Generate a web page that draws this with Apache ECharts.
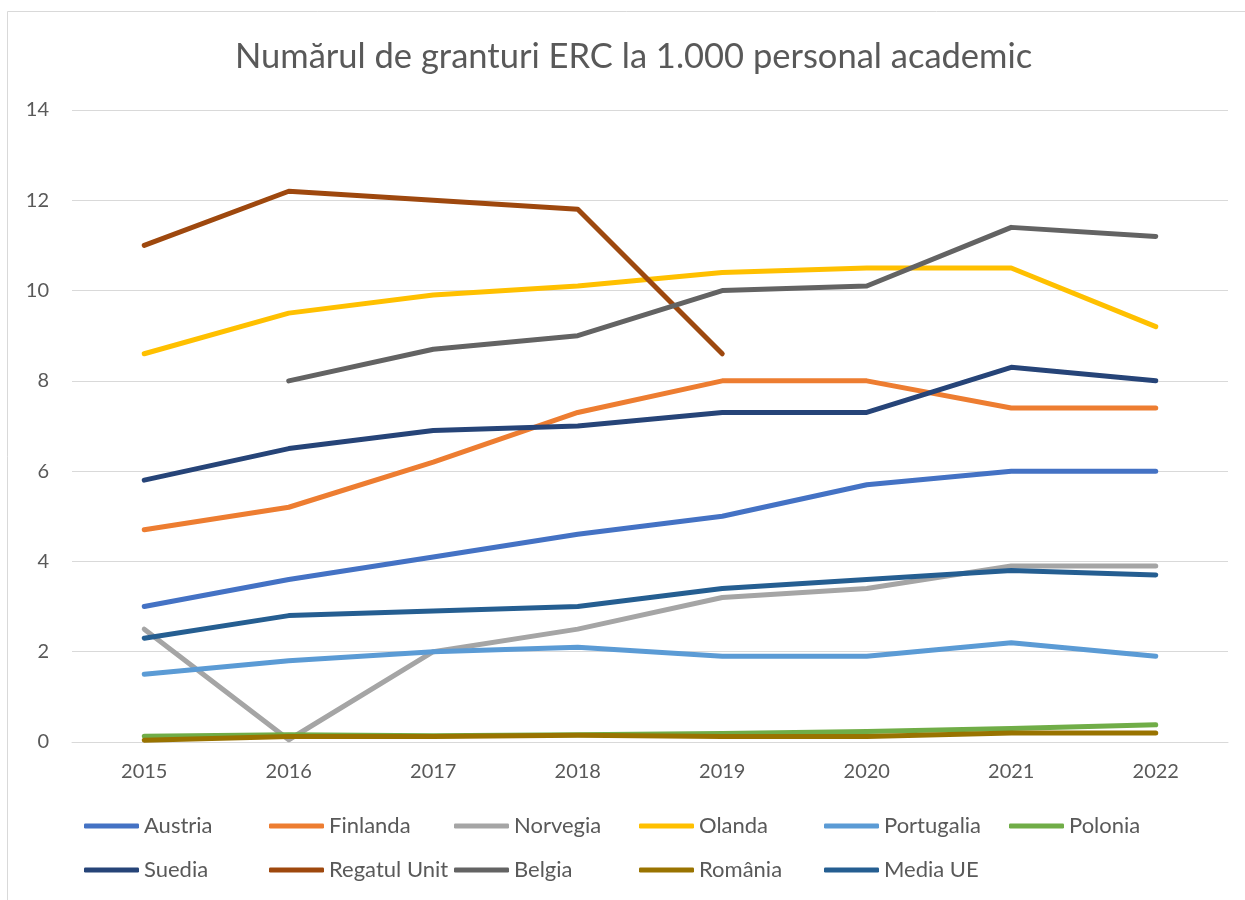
<!DOCTYPE html>
<html>
<head>
<meta charset="utf-8">
<script src="https://cdn.jsdelivr.net/npm/echarts@6/dist/echarts.min.js"></script>
<style>
    html, body { margin: 0; padding: 0; background: #fff; }
    #chart { width: 1245px; height: 900px; }
</style>
</head>
<body>
<div id="chart"></div>
<script>
const years = ['2015', '2016', '2017', '2018', '2019', '2020', '2021', '2022'];

const austria = [3.0, 3.6, 4.1, 4.6, 5.0, 5.7, 6.0, 6.0];
const finlanda = [4.7, 5.2, 6.2, 7.3, 8.0, 8.0, 7.4, 7.4];
const norvegia = [2.5, 0.05, 2.0, 2.5, 3.2, 3.4, 3.9, 3.9];
const olanda = [8.6, 9.5, 9.9, 10.1, 10.4, 10.5, 10.5, 9.2];
const portugalia = [1.5, 1.8, 2.0, 2.1, 1.9, 1.9, 2.2, 1.9];
const polonia = [0.13, 0.16, 0.14, 0.16, 0.19, 0.23, 0.3, 0.38];
const suedia = [5.8, 6.5, 6.9, 7.0, 7.3, 7.3, 8.3, 8.0];
const regatulUnit = [11.0, 12.2, 12.0, 11.8, 8.6, null, null, null];
const belgia = [null, 8.0, 8.7, 9.0, 10.0, 10.1, 11.4, 11.2];
const romania = [0.04, 0.12, 0.12, 0.15, 0.12, 0.12, 0.2, 0.2];
const mediaUE = [2.3, 2.8, 2.9, 3.0, 3.4, 3.6, 3.8, 3.7];

const yTicks = [0, 2, 4, 6, 8, 10, 12, 14];

const seriesDefs = [
    ['Austria', austria, '#4472C4'],
    ['Finlanda', finlanda, '#ED7D31'],
    ['Norvegia', norvegia, '#A5A5A5'],
    ['Olanda', olanda, '#FFC000'],
    ['Portugalia', portugalia, '#5B9BD5'],
    ['Polonia', polonia, '#70AD47'],
    ['Suedia', suedia, '#264478'],
    ['Regatul Unit', regatulUnit, '#9E480E'],
    ['Belgia', belgia, '#636363'],
    ['România', romania, '#997300'],
    ['Media UE', mediaUE, '#255E91']
];

const textColor = '#595959';
const font = 'Lato, "Noto Sans", sans-serif';

// one legend per item so the columns line up like the Excel legend (6 per row)
const legends = seriesDefs.map(([name], i) => ({
    left: 84 + (i % 6) * 185,
    top: 815 + Math.floor(i / 6) * 44,
    padding: 0,
    itemWidth: 55,
    itemHeight: 5,
    icon: 'roundRect',
    textStyle: { color: textColor, fontSize: 22, fontFamily: font },
    data: [name]
}));

const chart = echarts.init(document.getElementById('chart'));
chart.setOption({
    animation: false,
    backgroundColor: '#fff',
    textStyle: { fontFamily: font },
    graphic: [{
        type: 'rect',
        shape: { x: 7.5, y: 11.5, width: 1400, height: 1000 },
        style: { fill: 'none', stroke: '#d9d9d9', lineWidth: 1 },
        silent: true
    }],
    title: {
        text: 'Numărul de granturi ERC la 1.000 personal academic',
        left: 230,
        top: 34,
        textStyle: { color: textColor, fontSize: 34.5, fontWeight: 'normal', fontFamily: font }
    },
    grid: { left: 72, right: 17, top: 110, bottom: 158 },
    xAxis: {
        type: 'category',
        data: years,
        boundaryGap: true,
        axisLine: { lineStyle: { color: '#d9d9d9', width: 1 } },
        axisTick: { show: false },
        axisLabel: { color: textColor, fontSize: 20, margin: 20, fontFamily: font }
    },
    yAxis: {
        type: 'value',
        min: yTicks[0],
        max: yTicks[yTicks.length - 1],
        interval: 2,
        axisLine: { show: false },
        axisTick: { show: false },
        axisLabel: { color: textColor, fontSize: 20, margin: 23, fontFamily: font },
        splitLine: { lineStyle: { color: '#d9d9d9', width: 1 } }
    },
    legend: legends,
    series: seriesDefs.map(([name, data, color]) => ({
        name: name,
        type: 'line',
        data: data,
        symbol: 'none',
        connectNulls: false,
        itemStyle: { color: color },
        lineStyle: { color: color, width: 5, cap: 'round', join: 'round' }
    }))
});
</script>
</body>
</html>
